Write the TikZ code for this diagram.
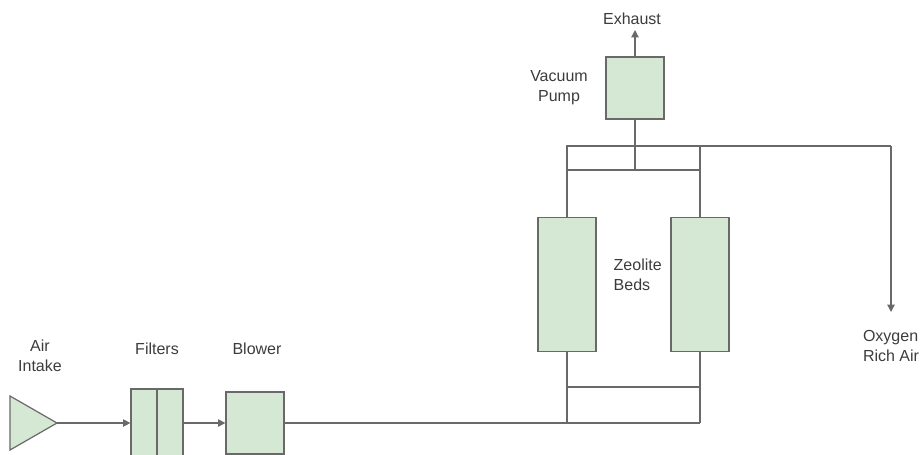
\documentclass[tikz,border=0pt]{standalone}
\usepackage{fontspec}
\setmainfont{Liberation Sans}
\usepackage{tikz}
\usetikzlibrary{arrows.meta,calc,positioning}
\definecolor{BedGreen}{RGB}{213,232,212}
\definecolor{PipeGrey}{RGB}{105,105,105}
\definecolor{TextGrey}{RGB}{60,60,60}

\begin{document}
\begin{tikzpicture}[x=0.75pt,y=-0.75pt,>={Triangle[length=5.5pt,width=5.5pt]},
  pipe/.style={draw=PipeGrey,line width=0.9pt},
  unit/.style={draw=PipeGrey,line width=0.9pt,fill=BedGreen,inner sep=0pt},
  lbl/.style={text=TextGrey,font=\fontsize{12}{15}\selectfont,align=center}]
\clip (0,0) rectangle (923,454);
% equipment
\draw[unit] (10,396)--(57,423)--(10,450)--cycle;
\coordinate (intake) at (57,423);
\node[unit,minimum width=39pt,minimum height=51pt] (filters) at (157,423) {};
\draw[pipe] (filters.north)--(filters.south);
\node[unit,minimum width=43.5pt,minimum height=46.5pt] (blower) at (255,423) {};
\node[unit,minimum width=43.5pt,minimum height=101pt] (bedL) at (567,284.5) {};
\node[unit,minimum width=43.5pt,minimum height=101pt] (bedR) at (700,284.5) {};
\node[unit,minimum width=43.5pt,minimum height=46.5pt] (pump) at (635,88) {};
% junctions
\coordinate (inL) at (bedL.south |- blower);
\coordinate (inR) at (bedR.south |- blower);
\coordinate (crossL) at (567,387);
\coordinate (crossR) at (700,387);
\coordinate (topL) at (567,146);
\coordinate (topR) at (700,146);
\coordinate (midL) at (567,170);
\coordinate (midR) at (700,170);
\coordinate (pumpJ) at (pump.south |- midL);
\coordinate (oxCorner) at (891,146);
\coordinate (oxEnd) at (891,312);
\coordinate (exEnd) at (635,30);
% piping
\draw[pipe,->] (intake)--(filters.west);
\draw[pipe,->] (filters.east)--(blower.west);
\draw[pipe] (blower.east)--(inR);
\draw[pipe] (bedL.south)--(inL);
\draw[pipe] (bedR.south)--(inR);
\draw[pipe] (crossL)--(crossR);
\draw[pipe] (bedL.north)--(topL)--(oxCorner);
\draw[pipe,->] (oxCorner)--(oxEnd);
\draw[pipe] (bedR.north)--(topR);
\draw[pipe] (midL)--(midR);
\draw[pipe] (pump.south)--(pumpJ);
\draw[pipe,->] (pump.north)--(exEnd);
% labels
\node[lbl] (intakeLbl) at (40,356) {Air\\Intake};
\node[lbl] (filtersLbl) at (157,349) {Filters};
\node[lbl] (blowerLbl) at (257,349) {Blower};
\node[lbl] (exLbl) at (632,19) {Exhaust};
\node[lbl] (pumpLbl) at (559,88) {Vacuum\\Pump};
\node[lbl,align=left,anchor=west] (bedsLbl) at (609,275) {Zeolite\\Beds};
\node[lbl,align=left] (oxLbl) at (891,346) {Oxygen\\Rich Air};
\end{tikzpicture}
\end{document}
